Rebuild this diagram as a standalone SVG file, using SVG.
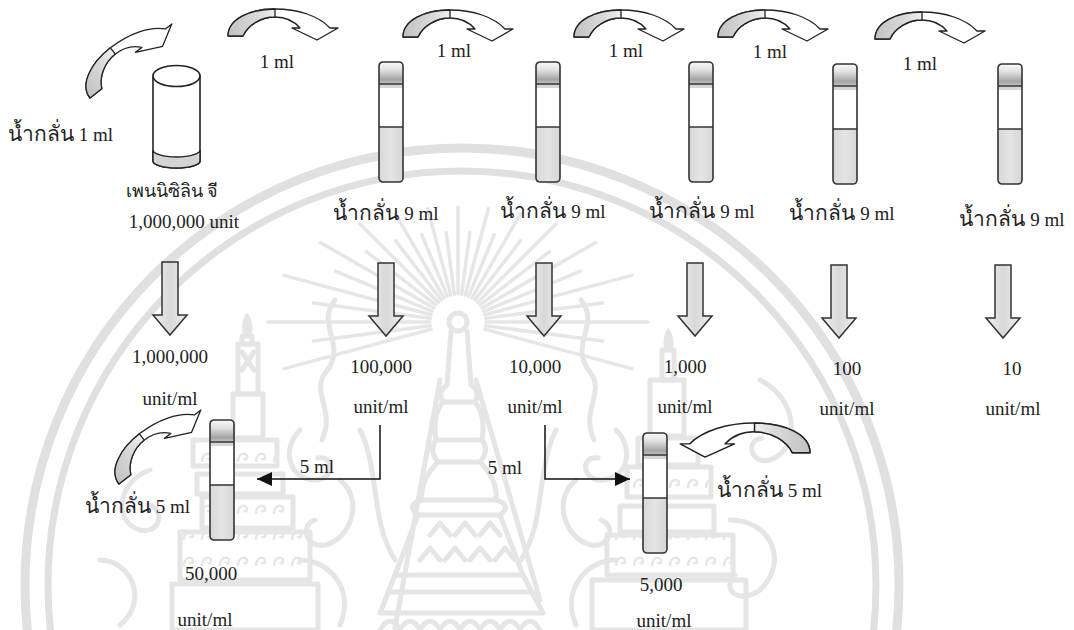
<svg xmlns="http://www.w3.org/2000/svg" width="1074" height="630" viewBox="0 0 1074 630">
  <style>
    .t { font-family: 'Liberation Serif', 'DejaVu Serif', serif; font-size: 19px; fill: #222; }
    .th { font-size: 21px; }
    .c { text-anchor: middle; }
    .wm { fill: none; stroke: #e5e5e5; stroke-width: 5; stroke-linecap: round; stroke-linejoin: round; }
    .wm-ring { fill: none; stroke: #e0e0e0; }
    .ray { stroke: #e6e6e6; stroke-width: 3.5; stroke-linecap: round; }
    .curl-body { fill: #fff; stroke: #222; stroke-width: 1.3; stroke-linejoin: round; }
    .curl-shade { fill: url(#shadeGrad); stroke: #222; stroke-width: 1.3; stroke-linejoin: round; }
    .down { fill: url(#downGrad); stroke: #333; stroke-width: 1.5; stroke-linejoin: miter; }
    .tube-line { stroke: #333; stroke-width: 1.5; }
    .tube-edge { fill: none; stroke: #333; stroke-width: 1.6; }
    .link { fill: none; stroke: #111; stroke-width: 1.5; }
  </style>
  <defs>
    <linearGradient id="shadeGrad" gradientUnits="userSpaceOnUse" x1="0" y1="0" x2="50" y2="0">
      <stop offset="0" stop-color="#c2c2c2"/>
      <stop offset="0.6" stop-color="#dadada"/>
      <stop offset="1" stop-color="#f2f2f2"/>
    </linearGradient>
    <linearGradient id="downGrad" x1="0" y1="0" x2="1" y2="0">
      <stop offset="0" stop-color="#f0f0f0"/>
      <stop offset="0.5" stop-color="#d8d8d8"/>
      <stop offset="1" stop-color="#eeeeee"/>
    </linearGradient>
    <linearGradient id="capGrad" x1="0" y1="0" x2="0" y2="1">
      <stop offset="0" stop-color="#fafafa"/>
      <stop offset="0.35" stop-color="#e2e2e2"/>
      <stop offset="0.8" stop-color="#a4a4a4"/>
      <stop offset="1" stop-color="#c4c4c4"/>
    </linearGradient>
    <linearGradient id="liqGrad" x1="0" y1="0" x2="1" y2="0">
      <stop offset="0" stop-color="#d8d8d8"/>
      <stop offset="0.5" stop-color="#e4e4e4"/>
      <stop offset="1" stop-color="#d6d6d6"/>
    </linearGradient>
    <pattern id="scallop" patternUnits="userSpaceOnUse" width="18" height="26">
      <path d="M4,20 C4,10 13,10 13,15 C13,18 10,18 10,16" fill="none" stroke="#e6e6e6" stroke-width="2.5"/>
    </pattern>
    <marker id="head" markerUnits="userSpaceOnUse" markerWidth="16" markerHeight="14" refX="15" refY="7" orient="auto">
      <path d="M0,0 L15,7 L0,14 Z" fill="#111"/>
    </marker>
    <!-- curved transfer arrow: tail at left (shaded), head pointing down at right -->
    <g id="curl">
      <path class="curl-body" d="M0,27 C0,10 22,0 47,0 C70,0 91,7 102,19 L110,19 L89,31 L64,19 L72,19 C66,12 58,8 47,8 C33,8 20,16 15,27 Z"/>
      <path class="curl-shade" d="M0,27 C0,10 22,0 47,0 L47,8 C33,8 20,16 15,27 Z"/>
    </g>
    <!-- block arrow pointing down -->
    <path id="down" class="down" d="M-8,0 H8 V53 H17 L0,73 L-17,53 H-8 Z"/>
    <!-- test tube with stopper and liquid -->
    <g id="tube">
      <rect x="0" y="0" width="24" height="120" rx="4" fill="#fff"/>
      <path d="M0,22 V4 Q0,0 4,0 H20 Q24,0 24,4 V22 Z" fill="url(#capGrad)"/>
      <rect x="0" y="22" width="24" height="4" fill="#d6d6d6"/>
      <path d="M0,65 H24 V116 Q24,120 20,120 H4 Q0,120 0,116 Z" fill="url(#liqGrad)"/>
      <line class="tube-line" x1="0" y1="22" x2="24" y2="22"/>
      <line class="tube-line" x1="0" y1="65" x2="24" y2="65"/>
      <rect class="tube-edge" x="0" y="0" width="24" height="120" rx="4"/>
    </g>
  </defs>

  <rect width="1074" height="630" fill="#fff"/>

  <!-- faint emblem in the background -->
  <g id="watermark">
    <circle class="wm-ring" cx="462" cy="585" r="437" stroke-width="9"/>
    <circle class="wm-ring" cx="462" cy="585" r="414" stroke-width="7"/>
    <g class="ray">
      <line x1="431" y1="329.3" x2="284.1" y2="368.6"/>
      <line x1="430.3" y1="325.7" x2="313.3" y2="341.1"/>
      <line x1="430" y1="322" x2="268" y2="322"/>
      <line x1="430.3" y1="318.3" x2="313.3" y2="302.9"/>
      <line x1="431" y1="314.7" x2="284.1" y2="275.4"/>
      <line x1="432.1" y1="311.3" x2="335.5" y2="271.2"/>
      <line x1="433.8" y1="308" x2="320.3" y2="242.5"/>
      <line x1="435.8" y1="304.9" x2="366.5" y2="251.7"/>
      <line x1="438.2" y1="302.2" x2="359.7" y2="223.7"/>
      <line x1="441" y1="299.8" x2="395.5" y2="240.6"/>
      <line x1="444" y1="297.8" x2="395.5" y2="213.8"/>
      <line x1="447.3" y1="296.1" x2="421.8" y2="234.8"/>
      <line x1="450.7" y1="295" x2="427.6" y2="208.5"/>
      <line x1="454.3" y1="294.3" x2="446.2" y2="232.6"/>
      <line x1="458" y1="294" x2="458" y2="207"/>
      <line x1="461.7" y1="294.3" x2="469.8" y2="232.6"/>
      <line x1="465.3" y1="295" x2="488.4" y2="208.5"/>
      <line x1="468.7" y1="296.1" x2="494.2" y2="234.8"/>
      <line x1="472" y1="297.8" x2="520.5" y2="213.8"/>
      <line x1="475" y1="299.8" x2="520.5" y2="240.6"/>
      <line x1="477.8" y1="302.2" x2="556.3" y2="223.7"/>
      <line x1="480.2" y1="304.9" x2="549.5" y2="251.7"/>
      <line x1="482.2" y1="308" x2="595.7" y2="242.5"/>
      <line x1="483.9" y1="311.3" x2="580.5" y2="271.2"/>
      <line x1="485" y1="314.7" x2="631.9" y2="275.4"/>
      <line x1="485.7" y1="318.3" x2="602.7" y2="302.9"/>
      <line x1="486" y1="322" x2="648" y2="322"/>
      <line x1="485.7" y1="325.7" x2="602.7" y2="341.1"/>
      <line x1="485" y1="329.3" x2="631.9" y2="368.6"/>
    </g>
    <!-- central spire -->
    <circle class="wm" cx="458" cy="322" r="9" stroke-width="4"/>
    <path class="wm" stroke-width="4" d="M451,331 L447,385 Q437,392 443,402 Q432,415 436,440 Q428,450 438,462 Q420,480 422,500 Q405,505 418,515 L395,575 L380,613 L543,613 L523,575 L500,515 Q513,505 496,500 Q498,480 480,462 Q490,450 482,440 Q486,415 475,402 Q481,392 471,385 L467,331"/>
    <path class="wm" stroke-width="3.5" d="M443,402 H475 M436,440 H482 M438,462 H480 M422,500 H496 M418,515 H500 M395,575 H523 M388,592 H530"/>
    <path class="wm" stroke-width="3" d="M430,535 l10,-12 l10,12 M455,535 l10,-12 l10,12 M480,535 l10,-12 l10,12 M420,560 l10,-12 l10,12 M445,560 l10,-12 l10,12 M470,560 l10,-12 l10,12 M495,560 l10,-12 l10,12"/>
    <path class="wm" stroke-width="3.5" d="M440,380 L395,628 M476,380 L540,600"/>
    <path class="wm" stroke-width="3.5" d="M380,630 q10,-18 20,0 q10,-18 20,0 q10,-18 20,0 q10,-18 20,0 q10,-18 20,0 q10,-18 20,0 q10,-18 20,0 q10,-18 20,0"/>
    <!-- left tower -->
    <path d="M247,312 C240,322 242,332 244,336 H251 C253,330 254,322 247,312 Z" fill="#e5e5e5"/>
    <g class="wm" stroke-width="4">
      <rect x="242" y="336" width="10" height="8"/>
      <rect x="238" y="344" width="20" height="50"/>
      <path d="M242,352 L254,370 M254,352 L242,370"/>
      <rect x="233" y="394" width="30" height="44"/>
      <rect x="193" y="440" width="84" height="26" fill="url(#scallop)"/>
      <rect x="197" y="474" width="86" height="20"/>
      <rect x="202" y="497" width="91" height="31" fill="url(#scallop)"/>
      <rect x="180" y="532" width="130" height="48" fill="url(#scallop)"/>
      <rect x="172" y="584" width="146" height="46"/>
    </g>
    <!-- right tower -->
    <path d="M668,327 C662,337 663,345 665,350 H672 C674,345 675,337 668,327 Z" fill="#e5e5e5"/>
    <g class="wm" stroke-width="4">
      <rect x="662" y="350" width="12" height="30"/>
      <rect x="650" y="380" width="34" height="56"/>
      <rect x="638" y="438" width="60" height="27"/>
      <rect x="627" y="467" width="84" height="30" fill="url(#scallop)"/>
      <rect x="620" y="506" width="94" height="26"/>
      <rect x="607" y="535" width="126" height="40" fill="url(#scallop)"/>
      <rect x="592" y="580" width="154" height="50"/>
    </g>
    <!-- flame and scroll ornaments -->
    <g class="wm" stroke-width="7">
      <path d="M335,300 C315,325 348,345 326,372 C310,392 336,410 322,440"/>
      <path d="M300,430 C280,450 290,480 315,480 C335,480 335,455 318,458"/>
      <path d="M340,480 C365,500 350,540 325,545 C305,548 300,525 315,520"/>
      <path d="M300,560 C330,560 355,590 340,625"/>
      <path d="M360,430 C380,470 370,520 395,560"/>
      <path d="M581,300 C601,325 568,345 590,372 C606,392 580,410 594,440"/>
      <path d="M616,430 C636,450 626,480 601,480 C581,480 581,455 598,458"/>
      <path d="M576,480 C551,500 566,540 591,545 C611,548 616,525 601,520"/>
      <path d="M616,560 C586,560 561,590 576,625"/>
      <path d="M556,430 C536,470 546,520 521,560"/>
      <path d="M150,470 C120,480 110,520 140,530 C160,535 165,510 150,505"/>
      <path d="M100,560 C130,560 150,600 120,625"/>
      <path d="M760,380 C800,400 800,450 770,460 C750,465 745,440 762,438"/>
      <path d="M730,520 C770,520 790,560 760,590 C740,605 720,590 735,575"/>
    </g>
  </g>

  <!-- transfers between tubes -->
  <g id="connectors">
    <use href="#curl" transform="translate(90,98) rotate(-38) translate(0,-27)"/>
    <use href="#curl" transform="translate(228,9)"/>
    <use href="#curl" transform="translate(403,10)"/>
    <use href="#curl" transform="translate(574,10)"/>
    <use href="#curl" transform="translate(718,10)"/>
    <use href="#curl" transform="translate(875,12)"/>
    <use href="#curl" transform="translate(119,484) rotate(-38) translate(0,-27)"/>
    <use href="#curl" transform="translate(810,423) scale(-1.18,1.1)"/>

    <use href="#down" x="170" y="262"/>
    <use href="#down" x="386" y="263"/>
    <use href="#down" x="544" y="263"/>
    <use href="#down" x="695" y="263"/>
    <use href="#down" x="839" y="265"/>
    <use href="#down" x="1003" y="265"/>

    <polyline class="link" points="380,425 380,479 257,479" marker-end="url(#head)"/>
    <polyline class="link" points="545,425 545,479 630,479" marker-end="url(#head)"/>
    <text class="t c" x="317" y="473">5 ml</text>
    <text class="t c" x="505" y="474">5 ml</text>
  </g>

  <!-- penicillin G vial -->
  <g id="vial">
    <path d="M153,76 V161 A23.5,7 0 0,0 200,161 V76" fill="#fff" stroke="#222" stroke-width="1.6"/>
    <path d="M153,150 A23.5,7 0 0,0 200,150 V161 A23.5,7 0 0,1 153,161 Z" fill="#d4d4d4" stroke="#222" stroke-width="1.4"/>
    <ellipse cx="176.5" cy="76" rx="23.5" ry="10.5" fill="#fff" stroke="#222" stroke-width="1.6"/>
    <text class="t" x="8" y="141"><tspan class="th">น้ำกลั่น</tspan> 1 ml</text>
    <text class="t c" x="172" y="197" style="font-size:18px">เพนนิซิลิน จี</text>
    <text class="t c" x="184" y="228">1,000,000 unit</text>
    <text class="t c" x="170" y="363">1,000,000</text>
    <text class="t c" x="170" y="405">unit/ml</text>
  </g>

  <g id="tube-1">
    <use href="#tube" x="379" y="62"/>
    <text class="t c" x="277" y="68">1 ml</text>
    <text class="t c" x="386" y="220"><tspan class="th">น้ำกลั่น</tspan> 9 ml</text>
    <text class="t c" x="381" y="373">100,000</text>
    <text class="t c" x="381" y="413">unit/ml</text>
  </g>

  <g id="tube-2">
    <use href="#tube" x="536" y="62"/>
    <text class="t c" x="454" y="57">1 ml</text>
    <text class="t c" x="553" y="218"><tspan class="th">น้ำกลั่น</tspan> 9 ml</text>
    <text class="t c" x="535" y="373">10,000</text>
    <text class="t c" x="535" y="413">unit/ml</text>
  </g>

  <g id="tube-3">
    <use href="#tube" x="689" y="62"/>
    <text class="t c" x="626" y="57">1 ml</text>
    <text class="t c" x="702" y="218"><tspan class="th">น้ำกลั่น</tspan> 9 ml</text>
    <text class="t c" x="685" y="373">1,000</text>
    <text class="t c" x="685" y="413">unit/ml</text>
  </g>

  <g id="tube-4">
    <use href="#tube" x="833" y="64"/>
    <text class="t c" x="770" y="58">1 ml</text>
    <text class="t c" x="842" y="220"><tspan class="th">น้ำกลั่น</tspan> 9 ml</text>
    <text class="t c" x="847" y="375">100</text>
    <text class="t c" x="847" y="415">unit/ml</text>
  </g>

  <g id="tube-5">
    <use href="#tube" x="998" y="64"/>
    <text class="t c" x="920" y="70">1 ml</text>
    <text class="t c" x="1012" y="226"><tspan class="th">น้ำกลั่น</tspan> 9 ml</text>
    <text class="t c" x="1012" y="375">10</text>
    <text class="t c" x="1013" y="415">unit/ml</text>
  </g>

  <g id="tube-50000">
    <use href="#tube" x="210" y="420"/>
    <text class="t" x="85" y="513"><tspan class="th">น้ำกลั่น</tspan> 5 ml</text>
    <text class="t c" x="211" y="580">50,000</text>
    <text class="t c" x="205" y="626">unit/ml</text>
  </g>

  <g id="tube-5000">
    <use href="#tube" x="643" y="433"/>
    <text class="t" x="717" y="497"><tspan class="th">น้ำกลั่น</tspan> 5 ml</text>
    <text class="t c" x="661" y="591">5,000</text>
    <text class="t c" x="664" y="627">unit/ml</text>
  </g>
</svg>
